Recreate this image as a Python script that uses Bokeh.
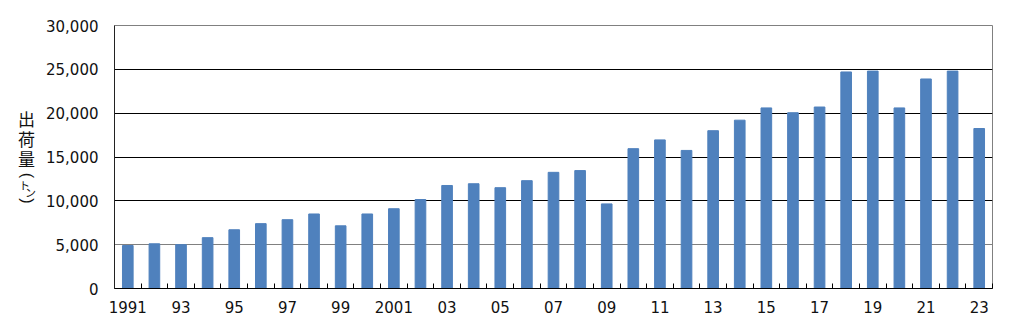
import math
from bokeh.plotting import figure
from bokeh.layouts import row
from bokeh.models import (Range1d, FixedTicker, NumeralTickFormatter, Grid,
                          ColumnDataSource)
from bokeh.core.properties import value
from bokeh.embed import file_html
from bokeh.resources import INLINE

# ---- data ----
years = list(range(1991, 2024))
shipments = [4900, 5100, 5000, 5800, 6700, 7400, 7850, 8500, 7150, 8500,
             9100, 10150, 11750, 11950, 11500, 12300, 13250, 13450, 9650, 15950,
             16950, 15750, 18000, 19200, 20600, 20050, 20700, 24700, 24800, 20600,
             23900, 24800, 18250]
label_years = list(range(1991, 2024, 2))
label_texts = ["1991", "93", "95", "97", "99", "2001", "03", "05", "07", "09",
               "11", "13", "15", "17", "19", "21", "23"]
y_ticks = [0, 5000, 10000, 15000, 20000, 25000, 30000]
y_title_chars = ["出", "荷", "量", "ト", "ン"]
y_title_parens = ["(", ")"]

BAR = "#4F81BD"
FONT = "DejaVu Sans"
CJK = "Noto Sans CJK JP"

W, H = 1012, 330
LW = 40                      # width of the title strip on the left
L, R, T, B = 114 - LW, 20, 25, 42

# ---- title strip (vertical, stacked y-axis title) ----
lab = figure(width=LW, height=H, output_backend="svg", toolbar_location=None,
             x_range=Range1d(0, LW), y_range=Range1d(H, 0),
             x_axis_type=None, y_axis_type=None,
             min_border_left=0, min_border_right=0, min_border_top=0,
             min_border_bottom=0)
lab.title.visible = False
lab.outline_line_color = None
lab.grid.visible = False
lab.background_fill_color = "white"
lab.border_fill_color = "white"
chars_src = ColumnDataSource(dict(
    ch=y_title_chars,
    x=[26, 26, 26, 24, 30],
    y=[117, 142, 167, 200, 209],
    fs=["17px", "17px", "17px", "11px", "11px"],
))
lab.text(x="x", y="y", text="ch", source=chars_src, text_font=value(CJK),
         text_font_size="fs", text_align="center", text_baseline="middle",
         text_color="#111111")
parens_src = ColumnDataSource(dict(ch=y_title_parens, x=[27, 27], y=[188, 220]))
lab.text(x="x", y="y", text="ch", source=parens_src, text_font=value("Liberation Sans"),
         text_font_size="16px", text_align="center", text_baseline="middle",
         angle=-math.pi / 2, text_color="#111111")

# ---- main chart ----
x0, x1 = years[0] - 0.5, years[-1] + 0.5
p = figure(width=W - LW, height=H, output_backend="svg", toolbar_location=None,
           x_range=Range1d(x0, x1), y_range=Range1d(0, 30000),
           min_border_left=L, min_border_right=R, min_border_top=T,
           min_border_bottom=B)
p.title.visible = False
p.outline_line_color = "#808080"
p.background_fill_color = "white"
p.border_fill_color = "white"

p.vbar(x=years, top=shipments, width=0.4, color=BAR)

# x axis
xa = p.xaxis[0]
xa.ticker = FixedTicker(ticks=label_years,
                        minor_ticks=[y - 0.5 for y in years] + [years[-1] + 0.5])
xa.major_label_overrides = {yr: t for yr, t in zip(label_years, label_texts)}
xa.major_tick_in = 0
xa.major_tick_out = 0
xa.minor_tick_in = 5
xa.minor_tick_out = 0
xa.minor_tick_line_color = "black"
xa.axis_line_color = "black"
xa.major_label_text_font = FONT
xa.major_label_text_font_size = "15px"
xa.major_label_text_color = "#111111"
xa.major_label_standoff = 12

# y axis
ya = p.yaxis[0]
ya.ticker = FixedTicker(ticks=y_ticks)
ya.formatter = NumeralTickFormatter(format="0,0")
ya.major_tick_in = 0
ya.major_tick_out = 0
ya.minor_tick_in = 0
ya.minor_tick_out = 0
ya.axis_line_color = "#222222"
ya.major_label_text_font = FONT
ya.major_label_text_font_size = "15px"
ya.major_label_text_color = "#111111"
ya.major_label_standoff = 16

# grid
p.xgrid.visible = False
p.ygrid.ticker = FixedTicker(ticks=y_ticks[2:-1])
p.ygrid.grid_line_color = "black"
p.ygrid.grid_line_width = 1
p.add_layout(Grid(dimension=1, ticker=FixedTicker(ticks=[y_ticks[1]]),
                  grid_line_color="#808080", grid_line_width=1))

layout = row(lab, p, spacing=0)
open("out.html", "w").write(file_html(layout, INLINE))
